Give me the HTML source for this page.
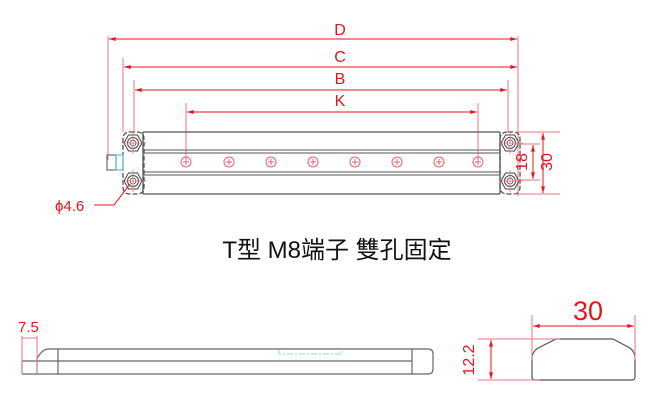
<!DOCTYPE html>
<html><head><meta charset="utf-8"><style>
html,body{margin:0;padding:0;background:#fff;}
svg{display:block;}
</style></head><body>
<svg width="664" height="403" viewBox="0 0 664 403" xmlns="http://www.w3.org/2000/svg" font-family="Liberation Sans, sans-serif">
<defs>
<marker id="a" viewBox="0 0 10 6" refX="10" refY="3" markerWidth="8" markerHeight="4" orient="auto-start-reverse"><path d="M0,0L10,3L0,6z" fill="#e8141c"/></marker>
<g id="nut"><polygon points="-9,0 -4.5,-8 4.5,-8 9,0 4.5,8 -4.5,8" fill="none" stroke="#444" stroke-width="1"/><circle r="5.5" fill="none" stroke="#444" stroke-width="1"/><circle r="3" fill="none" stroke="#444" stroke-width="0.8"/></g>
<g id="hole"><circle r="5" fill="none" stroke="#f06070" stroke-width="1"/><path d="M-3,0H3M0,-3V3" stroke="#f06070" stroke-width="1"/></g>
</defs>
<g stroke="#f07080" stroke-width="1" fill="none">
<path d="M108,36V160M518,36V196M123,58V132M134,80V132M508,80V132M186,103V162M478,103V162"/>
</g>
<g stroke="#e8141c" stroke-width="1">
<line x1="109" y1="39" x2="517" y2="39" marker-start="url(#a)" marker-end="url(#a)"/>
<line x1="124" y1="67" x2="517" y2="67" marker-start="url(#a)" marker-end="url(#a)"/>
<line x1="135" y1="90" x2="507" y2="90" marker-start="url(#a)" marker-end="url(#a)"/>
<line x1="187" y1="112" x2="477" y2="112" marker-start="url(#a)" marker-end="url(#a)"/>
</g>
<g fill="#e8141c" font-size="16" text-anchor="middle">
<text x="340" y="35">D</text><text x="340" y="62">C</text><text x="340" y="84">B</text><text x="340" y="106">K</text>
</g>
<g stroke="#555" stroke-width="1.3" fill="none">
<path d="M143,132H500M143,194H500M143,132V194M500,132V194"/>
<path d="M143,150H500M143,153H500M143,172H500M143,175H500" stroke="#777"/>
<path d="M130,132H137Q144,132 144,139V187Q144,194 137,194H130Q123,194 123,187V139Q123,132 130,132Z" stroke-dasharray="5,2"/>
<path d="M508,132H513Q520,132 520,139V187Q520,194 513,194H508Q500,194 500,187V139Q500,132 508,132Z" stroke-dasharray="5,2"/>
<rect x="107" y="155" width="9" height="15" stroke="#777"/>
<rect x="116" y="155" width="7" height="15" stroke="#6cc"/>
</g>
<use href="#nut" x="133" y="143"/><use href="#nut" x="133" y="181"/>
<use href="#nut" x="510" y="143"/><use href="#nut" x="510" y="181"/>
<g stroke="#f07080" stroke-width="0.8"><path d="M122,143H146M133,132V154M122,181H146M133,170V192M499,143H523M499,181H523M510,170V192M510,132V154"/></g>
<use href="#hole" x="186" y="162"/><use href="#hole" x="229" y="162"/><use href="#hole" x="271" y="162"/><use href="#hole" x="313" y="162"/><use href="#hole" x="355" y="162"/><use href="#hole" x="397" y="162"/><use href="#hole" x="439" y="162"/><use href="#hole" x="478" y="162"/>
<g stroke="#f07080" stroke-width="1"><path d="M515,132H560M515,194H560M515,144H540M515,180H540"/></g>
<g stroke="#e8141c" stroke-width="1">
<line x1="533" y1="145" x2="533" y2="179" marker-start="url(#a)" marker-end="url(#a)"/>
<line x1="543" y1="133" x2="543" y2="193" marker-start="url(#a)" marker-end="url(#a)"/>
</g>
<g fill="#e8141c" font-size="16" text-anchor="middle">
<text transform="translate(532,162) rotate(-90)" y="-5">18</text>
<text transform="translate(552,162) rotate(-90)" y="0">30</text>
</g>
<path d="M94,205H114L130,184" stroke="#e8141c" fill="none" stroke-width="1"/>
<text x="55" y="211" fill="#e8141c" font-size="15">ϕ4.6</text>
<text x="337" y="258" text-anchor="middle" font-size="24" fill="#111" font-family="Liberation Sans, Noto Sans CJK TC, sans-serif">T型 M8端子 雙孔固定</text>
<g stroke="#666" stroke-width="1.2" fill="none">
<path d="M22,374H428Q433,374 433,369V354Q433,349 428,349H48Q44,349 40,354L37,358V374"/>
<path d="M22,361H37M22,361V374M37,361H412M58,349V374M412,349V374"/>
</g>
<path d="M279,350V354H342V350" stroke="#8dd" fill="none" stroke-dasharray="6,2,2,2"/>
<g stroke="#f07080" stroke-width="1"><path d="M22,336V374M37,336V374M22,338H37"/></g>
<text x="18" y="332" fill="#e8141c" font-size="15">7.5</text>
<path d="M556,339H613L630,348Q635,352 635,358V377Q635,380 632,380H535Q532,380 532,377V358Q532,352 538,348Z" fill="none" stroke="#555" stroke-width="1.2"/>
<g stroke="#f07080" stroke-width="1"><path d="M532,315V360M635,315V360M478,339H560M478,380H540"/></g>
<g stroke="#e8141c" stroke-width="1">
<line x1="533" y1="326" x2="634" y2="326" marker-start="url(#a)" marker-end="url(#a)"/>
<line x1="491" y1="340" x2="491" y2="379" marker-start="url(#a)" marker-end="url(#a)"/>
</g>
<text x="588" y="320" text-anchor="middle" fill="#e8141c" font-size="27">30</text>
<text transform="translate(474,360) rotate(-90)" text-anchor="middle" fill="#e8141c" font-size="16">12.2</text>
</svg>
</body></html>
